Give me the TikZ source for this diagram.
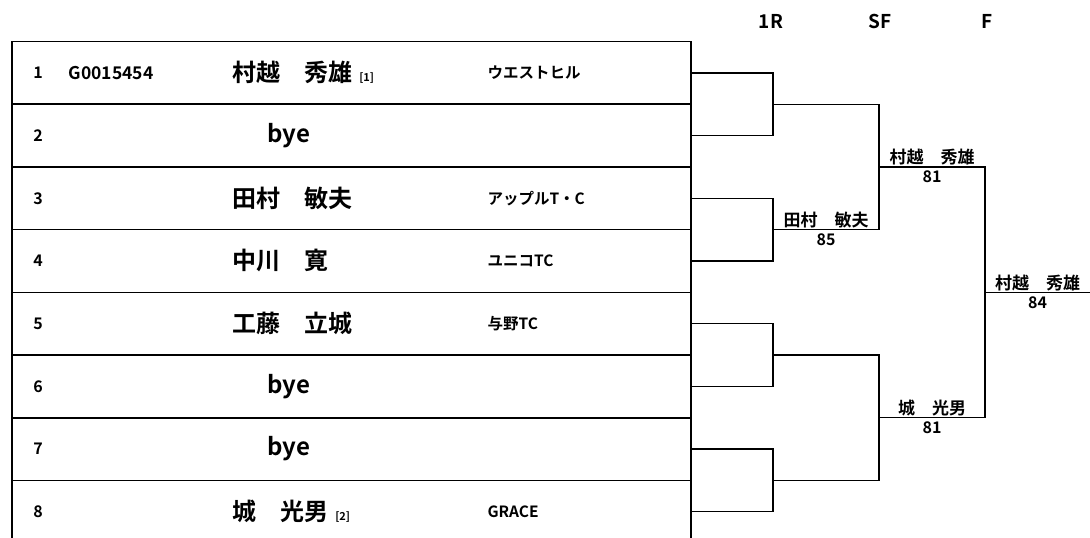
\documentclass[tikz,border=0pt]{standalone}
\usepackage{fontspec}
\setmainfont{Noto Sans CJK JP}[BoldFont={Noto Sans CJK JP Bold}]
\usetikzlibrary{positioning}

\begin{document}
\begin{tikzpicture}[x=1pt,y=-1pt,font=\bfseries,
	rule/.style={line width=1.6pt},
	bracket/.style={line width=1.3pt},
	round/.style={font=\bfseries\fontsize{19}{19}\selectfont},
	num/.style={font=\bfseries\fontsize{16}{16}\selectfont},
	player/.style={anchor=west,font=\bfseries\fontsize{24}{24}\selectfont},
	seed/.style={anchor=base west,inner sep=0pt,font=\bfseries\fontsize{11}{11}\selectfont},
	club/.style={anchor=west,font=\bfseries\fontsize{15.5}{15.5}\selectfont},
	winner/.style={font=\bfseries\fontsize{17}{17}\selectfont,inner sep=1.5pt},
	score/.style={font=\bfseries\fontsize{16}{16}\selectfont,inner sep=1pt,below=3pt}]
	\useasboundingbox (0,0) rectangle (1090,538);
	% rounds
	\node[round] (h1) at (771,21) {1R};
	\node[round] (h2) at (880,21) {SF};
	\node[round] (h3) at (987,21) {F};
	% draw sheet
	\draw[rule] (12,538) -- (12,41.5) -- (691,41.5) -- (691,538);
	\foreach \i in {1,...,7}
		\draw[rule] (12,41.5+62.7*\i) -- (691,41.5+62.7*\i);
	\foreach \i in {1,...,8}{
		\pgfmathsetmacro\yy{41.5+62.7*(\i-0.5)}
		\node[num] (n\i) at (38,\yy) {\i};
		\coordinate (r\i) at (691,\yy);
	}
	\node[anchor=west,font=\bfseries\fontsize{17.5}{17.5}\selectfont] (id1) at (65,72.85) {G0015454};
	\node[player] (p1) at (229,72.85) {村越　秀雄};
	\node[seed] (s1) at ([xshift=3pt]p1.base east) {[1]};
	\node[club] (c1) at (484,72.85) {ウエストヒル};
	\node[player] (p2) at (264,135.55) {bye};
	\node[player] (p3) at (229,198.25) {田村　敏夫};
	\node[club] (c3) at (484,198.25) {アップルT・C};
	\node[player] (p4) at (229,260.95) {中川　寛};
	\node[club] (c4) at (484,260.95) {ユニコTC};
	\node[player] (p5) at (229,323.65) {工藤　立城};
	\node[club] (c5) at (484,323.65) {与野TC};
	\node[player] (p6) at (264,386.35) {bye};
	\node[player] (p7) at (264,449.05) {bye};
	\node[player] (p8) at (229,511.75) {城　光男};
	\node[seed] (s8) at ([xshift=3pt]p8.base east) {[2]};
	\node[club] (c8) at (484,511.75) {GRACE};
	% draw
	\coordinate (a12) at (773,104.2);
	\coordinate (a34) at (773,229.6);
	\coordinate (a56) at (773,355.0);
	\coordinate (a78) at (773,480.4);
	\coordinate (b14) at (879,166.9);
	\coordinate (b58) at (879,417.7);
	\coordinate (c18) at (985,292.3);
	\coordinate (w) at (1090,292.3);
	\draw[bracket] (r1) -| (a12) |- (r2);
	\draw[bracket] (r3) -| (a34) |- (r4);
	\draw[bracket] (r5) -| (a56) |- (r6);
	\draw[bracket] (r7) -| (a78) |- (r8);
	\draw[bracket] (a12) -| (b14) |- (a34);
	\draw[bracket] (a56) -| (b58) |- (a78);
	\draw[bracket] (b14) -| (c18) |- (b58);
	\draw[bracket] (c18) -- (w);
	% results
	\path (a34) -- (a34 -| b14)
		node[winner,midway,above] (w34) {田村　敏夫}
		node[score,midway] (sc34) {85};
	\path (b14) -- (b14 -| c18)
		node[winner,midway,above] (w14) {村越　秀雄}
		node[score,midway] (sc14) {81};
	\path (b58) -- (b58 -| c18)
		node[winner,midway,above] (w58) {城　光男}
		node[score,midway] (sc58) {81};
	\path (c18) -- (w)
		node[winner,midway,above] (w18) {村越　秀雄}
		node[score,midway] (sc18) {84};
\end{tikzpicture}
\end{document}
